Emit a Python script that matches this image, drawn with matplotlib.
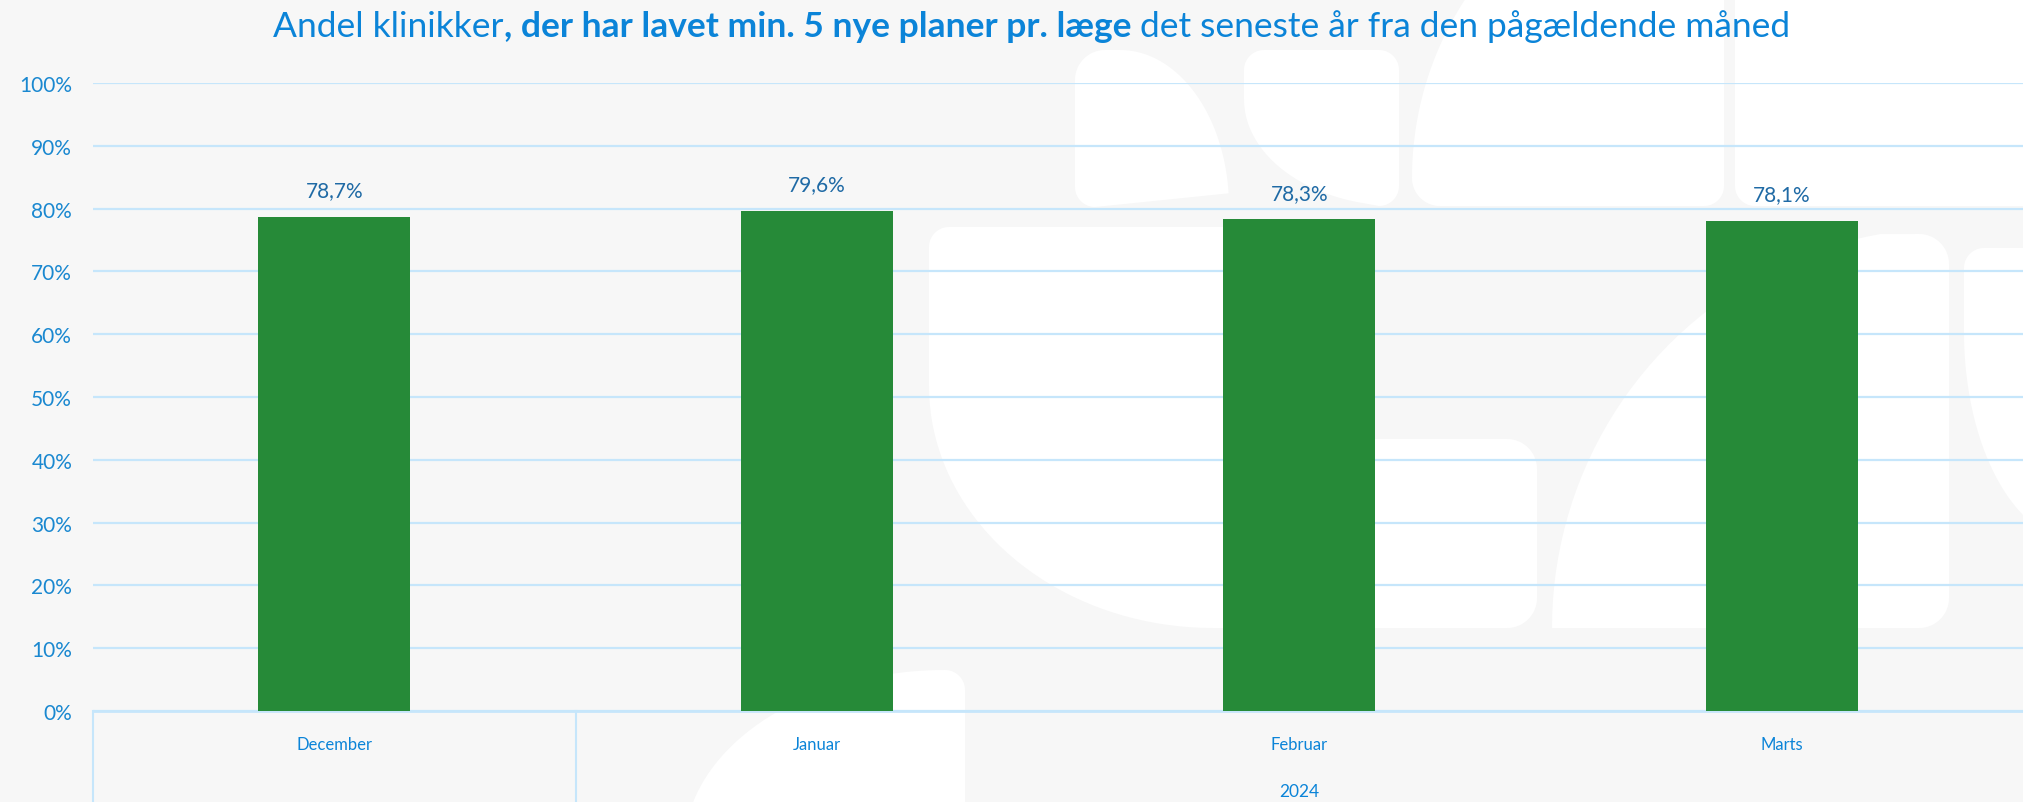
import matplotlib
matplotlib.use("Agg")
import numpy as np
import matplotlib.pyplot as plt
from matplotlib.patches import Polygon

# Data
categories = ["December", "Januar", "Februar", "Marts"]
values = [78.7, 79.6, 78.3, 78.1]
value_labels = ["78,7%", "79,6%", "78,3%", "78,1%"]
yticks = [0, 10, 20, 30, 40, 50, 60, 70, 80, 90, 100]
year_group_label = "2024"

BG = "#f7f7f7"
GRID = "#c6e6fb"
BLUE = "#0b84d8"
TICKBLUE = "#1a88d0"
LABELBLUE = "#1f6aa5"
GREEN = "#268a38"

plt.rcParams['font.family'] = ['Lato', 'DejaVu Sans']

W, H = 2023, 803
fig = plt.figure(figsize=(W / 100, H / 100), dpi=100, facecolor=BG)

# ---------- decorative background watermark (logo) ----------
def arc(cx, cy, rx, ry, a0, a1, n=40):
    t = np.radians(np.linspace(a0, a1, n))
    return list(zip(cx + rx * np.cos(t), cy + ry * np.sin(t)))

def shape(pts):
    pts = [(x / W, 1 - y / H) for x, y in pts]
    fig.patches.append(Polygon(pts, closed=True, transform=fig.transFigure,
                               facecolor="white", edgecolor="none", zorder=0))

# A
shape(arc(1095, 188, 20, 20, 90, 180) + arc(1105, 81, 30, 30, 180, 270)
      + arc(1120, 208, 109, 157, 270, 355))
# B
shape(arc(1264, 71, 20, 20, 180, 270) + arc(1379, 71, 20, 20, 270, 360)
      + arc(1379, 187, 20, 20, 0, 90) + arc(1399, 100, 155, 107, 105, 180))
# C
shape([(1724, -10)] + arc(1704, 187, 20, 20, 0, 90) + arc(1440, 179, 28, 28, 90, 180)
      + arc(1724, 179, 312, 320, 180, 216))
# D
shape([(2030, -10), (2030, 207)] + arc(1755, 187, 20, 20, 90, 180) + [(1735, -10)])
# E
shape(arc(949, 248, 20, 20, 180, 270) + [(1300, 228), (1300, 440)]
      + arc(1507, 470, 30, 30, 270, 360) + arc(1507, 599, 30, 30, 0, 90)
      + arc(1213, 387, 284, 242, 90, 180))
# F
shape(arc(1949, 629, 397, 400, 180, 260) + arc(1919, 265, 30, 30, 270, 360)
      + arc(1919, 599, 30, 30, 0, 90))
# G
shape(arc(1984, 269, 20, 20, 180, 270) + [(2030, 249), (2030, 516)]
      + arc(2080, 333, 116, 210, 119, 180))
# H
shape(arc(945, 850, 261, 179, 195, 270) + arc(945, 691, 20, 20, 270, 360)
      + [(965, 810), (690, 810)])

# ---------- chart ----------
ax = fig.add_axes([93 / W, 1 - 712 / H, 1 - 93 / W, (712 - 84) / H])
ax.set_facecolor("none")
ax.set_zorder(2)

x = list(range(len(categories)))
ax.bar(x, values, width=0.315, color=GREEN, zorder=3)
for xi, v, lab in zip(x, values, value_labels):
    ax.annotate(lab, (xi, v), xytext=(0, 12), textcoords="offset points",
                ha="center", va="bottom", fontsize=15, color=LABELBLUE)

ax.set_xlim(-0.5, len(categories) - 0.5)
ax.set_ylim(0, 100)
ax.set_yticks(yticks)
ax.set_yticklabels([f"{t}%" for t in yticks], fontsize=15, color=TICKBLUE)
ax.tick_params(axis="y", length=0, pad=15)
ax.grid(axis="y", color=GRID, linewidth=1.6, zorder=1)
ax.set_axisbelow(True)
for s in ["top", "right", "left"]:
    ax.spines[s].set_visible(False)
ax.spines["bottom"].set_color(GRID)
ax.spines["bottom"].set_linewidth(2)

ax.set_xticks(x)
ax.set_xticklabels(categories, fontsize=12, color=BLUE)
ax.tick_params(axis="x", length=0, pad=18)

# grouped category separators
for xs in [-0.5, 0.5]:
    ax.plot([xs, xs], [0, -20], color=GRID, linewidth=1.5, clip_on=False)
ax.text((0.5 + len(categories) - 0.5) / 2, -12.7, year_group_label,
        ha="center", va="center", fontsize=12.5, color=BLUE)

# title with bold middle part
title_parts = [("Andel klinikker", "normal"),
               (", der har lavet min. 5 nye planer pr. læge", "bold"),
               (" det seneste år fra den pågældende måned", "normal")]
fig.canvas.draw()
renderer = fig.canvas.get_renderer()
texts = []
for s, w in title_parts:
    t = fig.text(0, 1 - 27 / H, s, fontsize=25.5, fontweight=w, color=BLUE,
                 ha="left", va="center")
    texts.append(t)
widths = [t.get_window_extent(renderer).width for t in texts]
start = 1032 - sum(widths) / 2
for t, w in zip(texts, widths):
    t.set_x(start / W)
    start += w

fig.savefig("out.png", dpi=100, facecolor=BG)
